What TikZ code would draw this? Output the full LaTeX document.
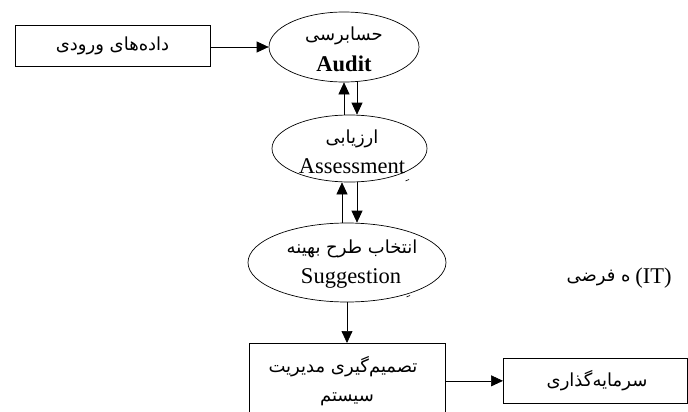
\documentclass[tikz,border=0pt]{standalone}
\usepackage{fontspec}
\setmainfont{Liberation Serif}
\newfontfamily\fa[Script=Arabic]{DejaVu Sans}
\TeXXeTstate=1
\usetikzlibrary{shapes.geometric,arrows.meta}
\begin{document}
\begin{tikzpicture}[x=1pt,y=-1pt,
  line width=0.7pt,
  arr/.style={-{Triangle[length=12pt,width=11pt]}},
  box/.style={draw,rectangle,inner sep=0pt},
  ell/.style={draw,ellipse,inner sep=0pt},
  fat/.style={font=\fa\fontsize{18}{20}\selectfont,inner sep=0pt},
  lat/.style={font=\fontsize{22.5}{24}\selectfont,inner sep=0pt},
  kasra/.style={line width=0.6pt}]
\useasboundingbox (0,0) rectangle (688,412);
\node[box,minimum width=195pt,minimum height=41pt] (inbox) at (112.5,45.5) {};
\node[fat] (t1) at (inbox.center) {\beginR داده‌های ورودی\endR};
\node[ell,minimum width=150pt,minimum height=70pt] (audit) at (344,47) {};
\node[fat] (t2) at (344,36) {\beginR حسابرسی\endR};
\node[lat,font=\bfseries\fontsize{22.5}{24}\selectfont] (t3) at (344,64) {Audit};
\node[ell,minimum width=155pt,minimum height=67pt] (assess) at (349.5,148.5) {};
\node[fat] (t4) at (352,139) {\beginR ارزیابی\endR};
\node[lat] (t5) at (352,166) {Assessment};
\node[ell,minimum width=198pt,minimum height=79pt] (sugg) at (347,262.5) {};
\node[fat] (t6) at (352,249) {\beginR انتخاب طرح بهینه\endR};
\node[lat] (t7) at (351,278) {Suggestion};
\node[box,minimum width=196pt,minimum height=90pt,anchor=north west] (dec) at (249,343) {};
\node[fat] (t8) at (343,367) {\beginR تصمیم‌گیری مدیریت\endR};
\node[fat] (t9) at (347,399) {\beginR سیستم\endR};
\node[box,minimum width=184pt,minimum height=45pt,anchor=north west] (inv) at (503,358) {};
\node[fat] (t10) at (597,381) {\beginR سرمایه‌گذاری\endR};
\node[fat,anchor=east] (itfa) at (631,278) {\beginR ه فرضی\endR};
\node[lat,anchor=west] (it) at (635,278) {(IT)};
\draw[kasra] (405.5,181) -- (409,179.5);
\draw[kasra] (406.5,297) -- (410,295.5);
\coordinate (xa) at (344,0);
\coordinate (xb) at (357,0);
\coordinate (xc) at (342,0);
\draw[arr] (inbox.east |- audit.west) -- (audit.west);
\draw[arr] (assess.north -| xa) -- (audit.south -| xa);
\draw[arr] (audit.south -| xb) -- (assess.north -| xb);
\draw[arr] (sugg.north -| xc) -- (assess.south -| xc);
\draw[arr] (assess.south -| xb) -- (sugg.north -| xb);
\draw[arr] (sugg.south) -- (dec.north -| sugg.south);
\draw[arr] (dec.east |- inv.west) -- (inv.west);
\end{tikzpicture}
\end{document}
